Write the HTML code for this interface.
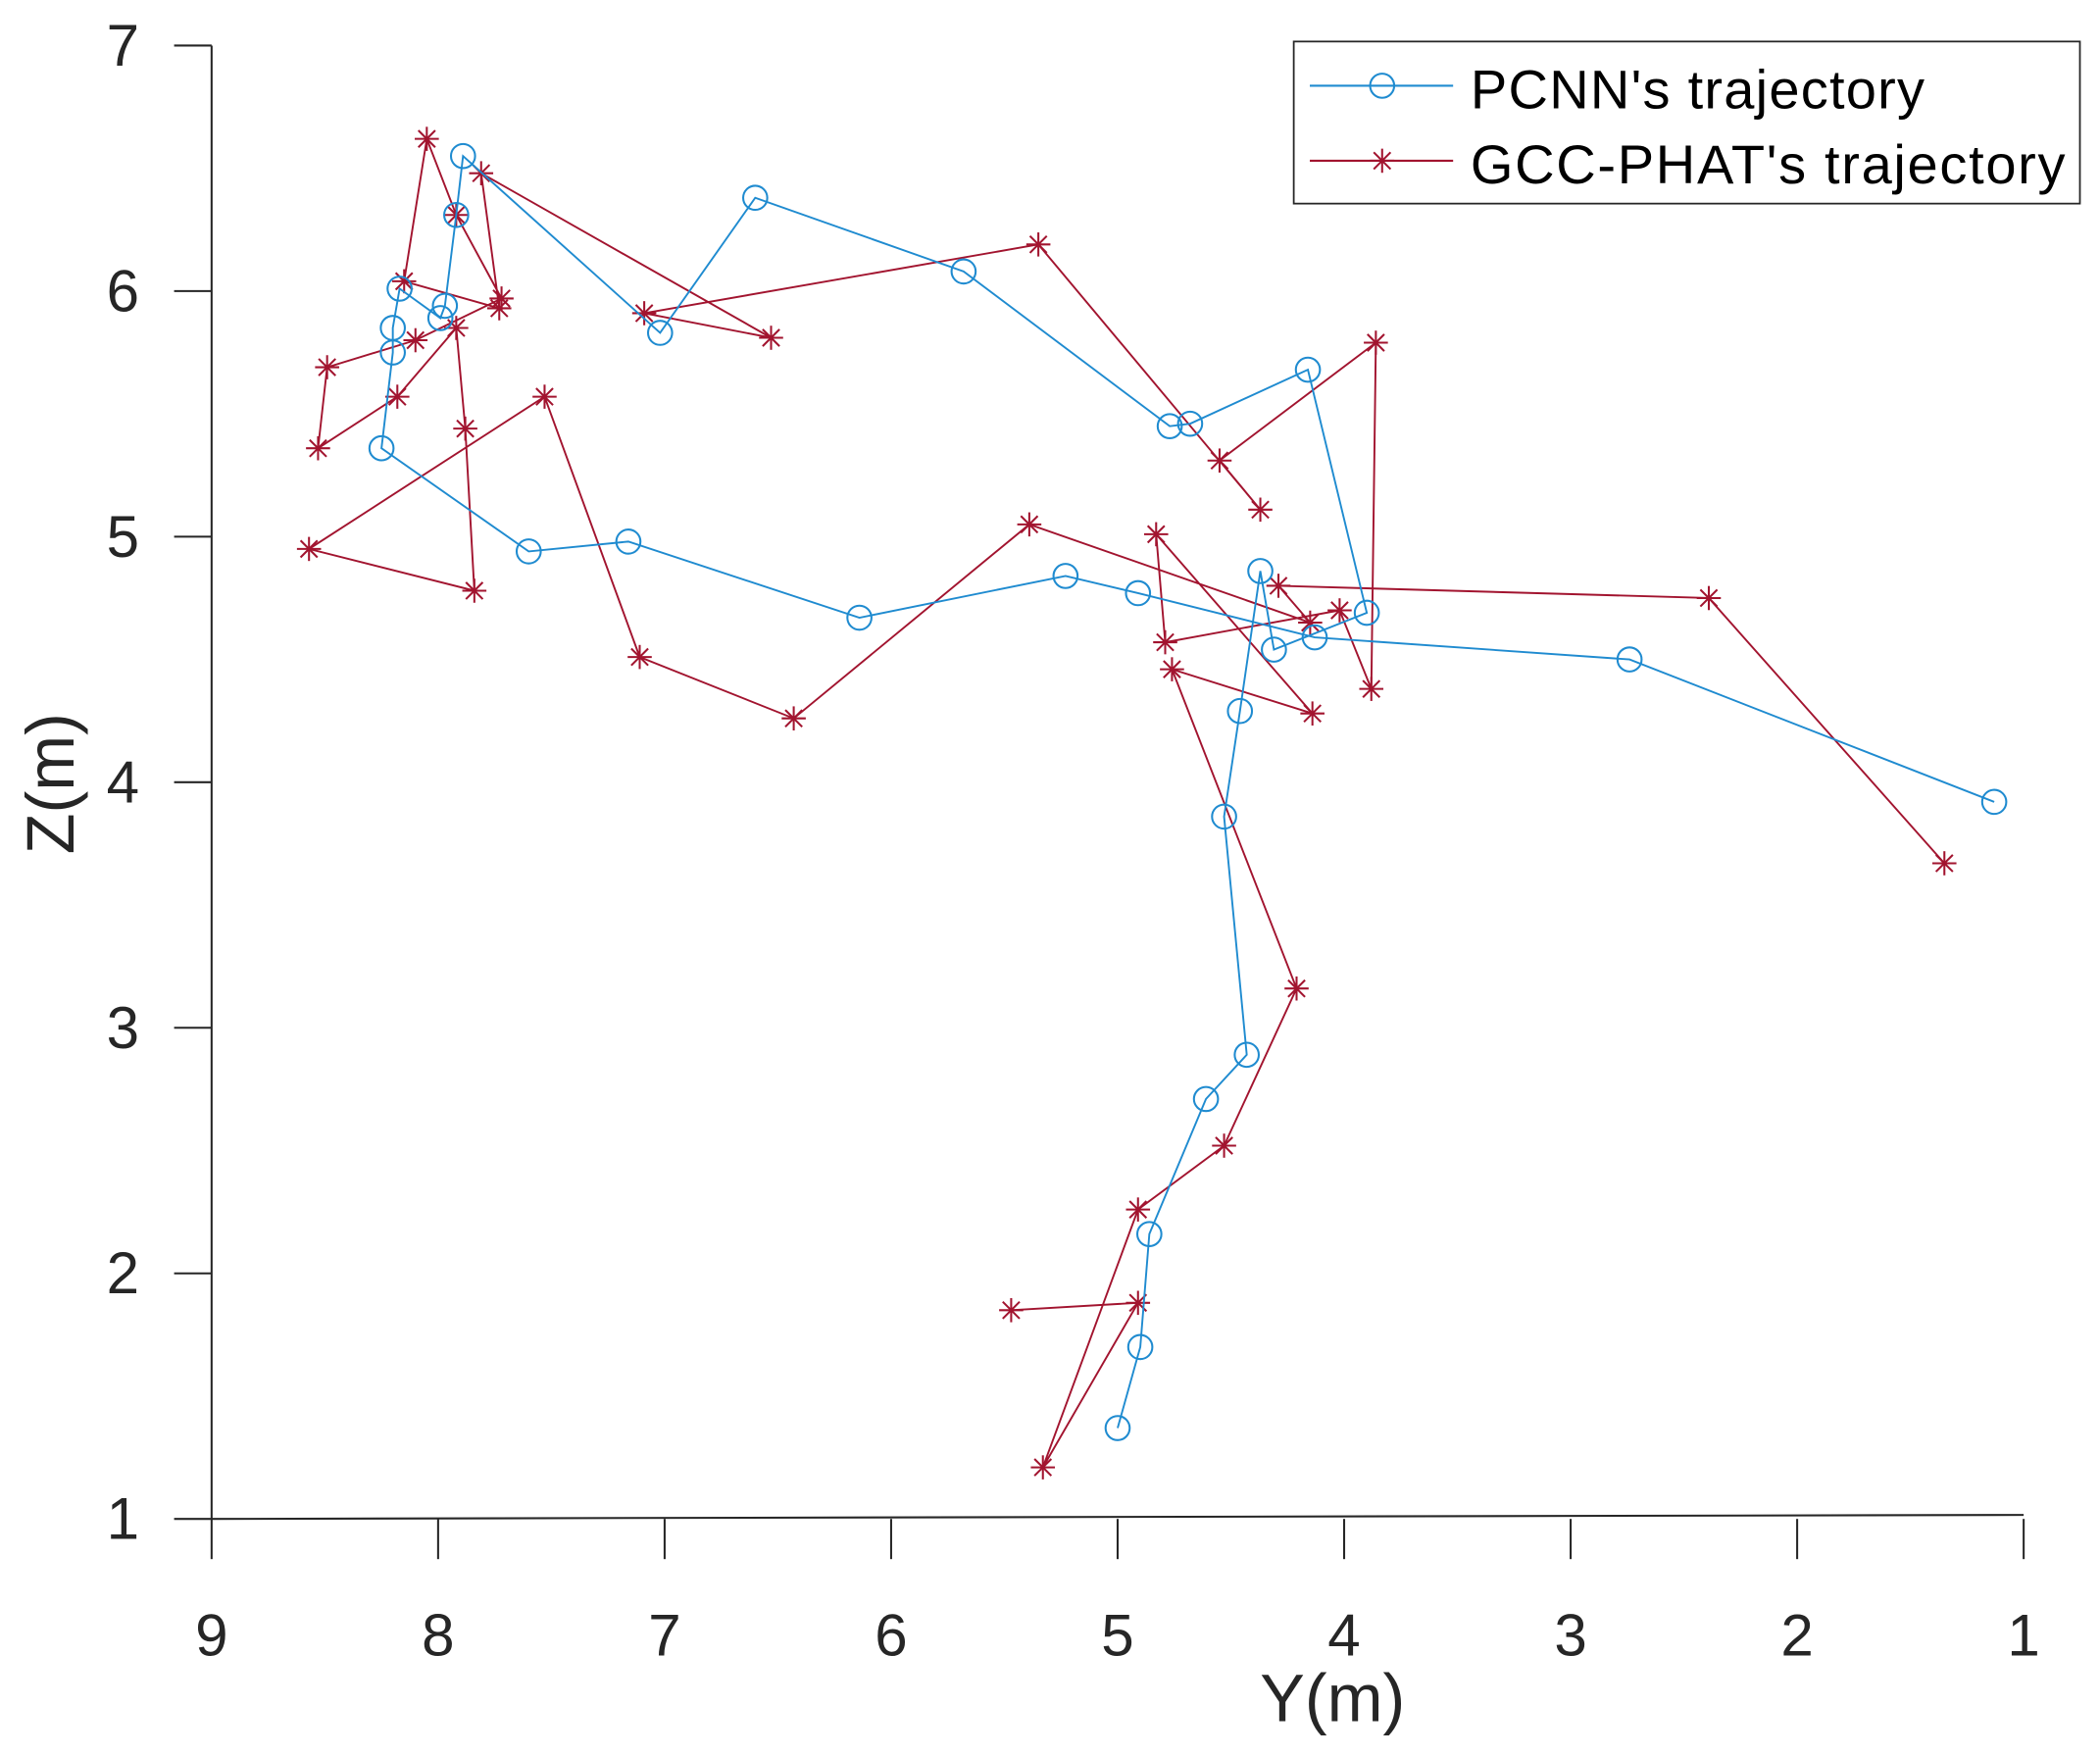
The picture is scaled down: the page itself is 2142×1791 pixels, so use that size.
<!DOCTYPE html>
<html><head><meta charset="utf-8"><style>
html,body{margin:0;padding:0;background:#fff;}
svg{display:block;font-family:"Liberation Sans",sans-serif;}
</style></head><body>
<svg id="chart" width="2142" height="1791" viewBox="0 0 1568 1311" preserveAspectRatio="none" xmlns="http://www.w3.org/2000/svg">
<rect x="0" y="0" width="1568" height="1311" fill="#fff"/>
<g id="axes"></g>
<g id="series"></g>
<g>
<rect x="966" y="31" width="587" height="121" fill="#fff" stroke="#262626" stroke-width="1.3"/>
<line x1="978" y1="64" x2="1085" y2="64" stroke="#1f8bd0" stroke-width="1.5"/>
<circle cx="1032" cy="64" r="9" fill="none" stroke="#1f8bd0" stroke-width="1.5"/>
<text x="1098" y="81" font-size="41" textLength="339" fill="#000">PCNN's trajectory</text>
<line x1="978" y1="120" x2="1085" y2="120" stroke="#a2142f" stroke-width="1.5"/>
<g id="legstar"></g>
<text x="1098" y="137" font-size="41" textLength="444" fill="#000">GCC-PHAT's trajectory</text>
</g>
<text x="995" y="1285" font-size="50" text-anchor="middle" fill="#262626">Y(m)</text>
<text transform="translate(55,585) rotate(-90)" font-size="50" text-anchor="middle" fill="#262626">Z(m)</text>
</svg>
<script>
const xTicks = [9,8,7,6,5,4,3,2,1];
const yTicks = [1,2,3,4,5,6,7];
const pcnnY = [5.00,4.90,4.86,4.61,4.43,4.53,4.46,4.37,4.31,3.90,4.16,4.68,4.77,5.68,6.60,7.02,7.89,7.92,7.97,7.99,8.17,8.20,8.20,8.25,7.60,7.16,6.14,5.23,4.91,4.13,2.74,1.13];
const pcnnZ = [1.37,1.70,2.16,2.71,2.89,3.86,4.29,4.86,4.54,4.69,5.68,5.46,5.45,6.08,6.38,5.83,6.55,6.31,5.94,5.89,6.01,5.85,5.75,5.36,4.94,4.98,4.67,4.84,4.77,4.59,4.50,3.92];
const gccY = [1.35,2.39,4.29,4.15,5.39,6.43,7.11,7.53,8.57,7.84,7.88,7.92,8.18,8.53,8.49,8.10,7.72,7.92,8.05,8.15,7.73,7.81,6.53,7.09,5.35,4.37,4.55,3.86,3.88,4.02,4.79,4.83,4.14,4.76,4.21,4.53,4.91,5.33,4.91,5.47];
const gccZ = [3.67,4.75,4.80,4.65,5.05,4.26,4.51,5.57,4.95,4.78,5.44,5.85,5.57,5.36,5.69,5.80,5.97,6.31,6.62,6.04,5.93,6.48,5.81,5.91,6.19,5.11,5.31,5.79,4.38,4.70,4.57,5.01,4.28,4.46,3.16,2.52,2.26,1.21,1.88,1.85];

const NS='http://www.w3.org/2000/svg';
const L=158,R=1511,T=34,B=1134;
const xs=v=>L+(9-v)*(R-L)/8;
const ys=v=>B-(v-1)*(B-T)/6;
function mk(tag,attrs,parent){const e=document.createElementNS(NS,tag);for(const k in attrs)e.setAttribute(k,attrs[k]);parent.appendChild(e);return e;}
const axes=document.getElementById('axes');
const yl=mk('line',{x1:L,y1:T,x2:L,y2:B,stroke:'#262626','stroke-width':1.5},axes);


const xl=mk('line',{x1:L,y1:B,x2:R,y2:B-3,stroke:'#262626','stroke-width':1.5},axes);


xTicks.forEach(v=>{
  const x=xs(v);
  mk('line',{x1:x,y1:B,x2:x,y2:B+30,stroke:'#262626','stroke-width':1.5},axes);
  const t=mk('text',{x:x,y:1236,'font-size':44,'text-anchor':'middle',fill:'#262626'},axes);
  t.textContent=v;
  
  
});
yTicks.forEach(v=>{
  const y=ys(v);
  mk('line',{x1:L-28,y1:y,x2:L,y2:y,stroke:'#262626','stroke-width':1.5},axes);
  const t=mk('text',{x:104,y:y+15,'font-size':44,'text-anchor':'end',fill:'#262626'},axes);
  t.textContent=v;
  
  
});
const ser=document.getElementById('series');
function star(g,x,y,c){const r=9;
  mk('line',{x1:x-r,y1:y,x2:x+r,y2:y,stroke:c,'stroke-width':1.5},g);
  mk('line',{x1:x,y1:y-r,x2:x,y2:y+r,stroke:c,'stroke-width':1.5},g);
  mk('line',{x1:x-r*0.7,y1:y-r*0.7,x2:x+r*0.7,y2:y+r*0.7,stroke:c,'stroke-width':1.5},g);
  mk('line',{x1:x-r*0.7,y1:y+r*0.7,x2:x+r*0.7,y2:y-r*0.7,stroke:c,'stroke-width':1.5},g);}
const gg=mk('g',{},ser);


const gl=mk('polyline',{points:gccY.map((v,i)=>xs(v)+','+ys(gccZ[i])).join(' '),fill:'none',stroke:'#a2142f','stroke-width':1.4},gg);


gccY.forEach((v,i)=>star(gg,xs(v),ys(gccZ[i]),'#a2142f'));
const pg=mk('g',{},ser);


const pl=mk('polyline',{points:pcnnY.map((v,i)=>xs(v)+','+ys(pcnnZ[i])).join(' '),fill:'none',stroke:'#1f8bd0','stroke-width':1.4},pg);


pcnnY.forEach((v,i)=>{const c=mk('circle',{cx:xs(v),cy:ys(pcnnZ[i]),r:9,fill:'none',stroke:'#1f8bd0','stroke-width':1.5},pg);
  
  });
star(document.getElementById('legstar'),1032,120,'#a2142f');
</script>
</body></html>
